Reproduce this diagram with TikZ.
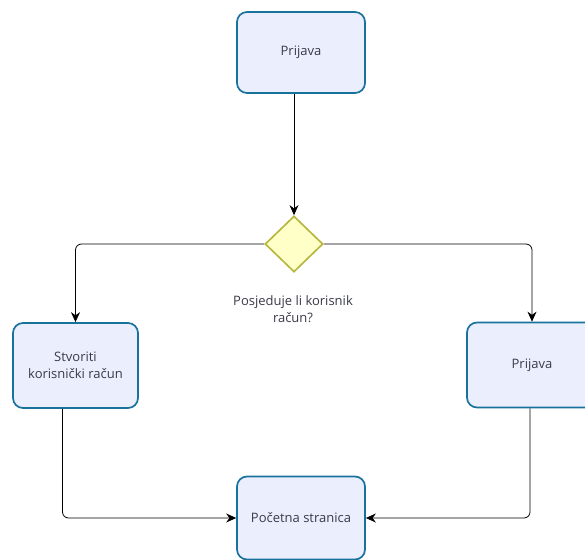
\documentclass[tikz,border=0pt]{standalone}
\usepackage{fontspec}
\setmainfont{Open Sans}
\usetikzlibrary{arrows.meta,positioning,shapes.geometric}
\definecolor{boxfill}{HTML}{EBEEFC}
\definecolor{boxline}{HTML}{18729C}
\definecolor{dfill}{HTML}{FFFFC8}
\definecolor{dline}{HTML}{B8B840}
\definecolor{txt}{HTML}{3A3A48}
\begin{document}
\begin{tikzpicture}[
      x=1pt, y=-1pt, font=\fontsize{13}{17}\selectfont,
      proc/.style={draw=boxline, fill=boxfill, rounded corners=10pt, line width=1.7pt,
        align=center, text=txt, minimum width=128pt, minimum height=81pt, inner sep=2pt},
      odl/.style={draw=dline, fill=dfill, diamond, line width=1.7pt,
        minimum width=58pt, minimum height=56pt, inner sep=0pt},
      arr/.style={-{Stealth[length=10pt,width=9pt]}, line width=0.8pt, rounded corners=6pt},
    ]
    \useasboundingbox (0,0) rectangle (585,559);
    \node[proc] (prijava) at (301,52.5) {Prijava};
    \node[odl] (racun) at (294,244) {};
    \node[align=center, text=txt] (pitanje) at (293,309) {Posjeduje li korisnik\\račun?};
    \node[proc, minimum width=125pt, minimum height=85pt] (stvori) at (75.5,365.5) {Stvoriti\\korisnički račun};
    \node[proc, minimum width=130pt, minimum height=85pt] (prijava2) at (532,365) {Prijava};
    \node[proc, minimum height=83pt] (pocetna) at (301,518) {Početna stranica};
    \draw[arr] (racun.north |- prijava.south) -- (racun.north);
    \draw[arr] (racun.west) -| (stvori.north);
    \draw[arr] (racun.east) -| (prijava2.north);
    \draw[arr] ([xshift=-13pt]stvori.south) |- (pocetna.west);
    \draw[arr] ([xshift=-2pt]prijava2.south) |- (pocetna.east);
  \end{tikzpicture}
\end{document}
